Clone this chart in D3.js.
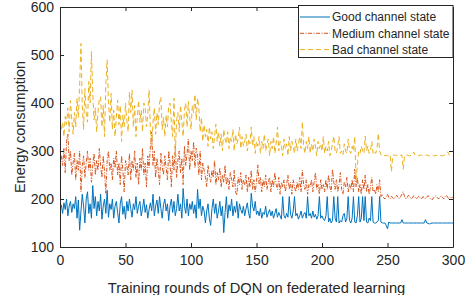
<!DOCTYPE html>
<html>
<head>
<meta charset="utf-8">
<script src="https://cdn.jsdelivr.net/npm/d3@7"></script>
<style>
  body { margin: 0; background: #fff; }
  svg text { font-family: "Liberation Sans", Arial, Helvetica, sans-serif; fill: #262626; }
</style>
</head>
<body>
<svg id="chart" width="471" height="295"></svg>
<script>
// energy consumption per training round (rounds 1..300)
var good = [
  188,170,192,178,200,165,185,195,172,190, 180,205,160,198,135,175,210,185,150,200,
  215,170,190,160,228,180,205,165,195,175, 210,158,185,200,170,218,162,190,178,200,
  160,185,195,172,150,190,205,168,185,158, 195,175,200,180,162,190,178,205,170,185,
  195,165,180,200,172,188,160,178,192,175, 210,165,185,198,170,205,180,160,188,200,
  175,190,155,185,200,172,195,165,180,210, 175,190,160,222,185,170,200,165,190,178,
  195,170,188,160,220,180,200,165,185,175, 150,175,190,160,145,180,200,170,190,160,
  175,195,165,185,130,172,205,160,188,175, 200,165,185,172,195,160,190,178,170,185,
  165,180,192,170,160,212,185,175,195,168, 175,165,180,160,172,168,185,162,170,178,
  165,175,160,170,180,162,172,165,158,205, 165,160,170,162,205,168,160,175,205,165,
  170,158,165,175,160,168,172,160,205,165, 170,160,175,162,168,158,165,205,160,165,
  158,155,165,205,152,160,150,155,205,160, 152,205,150,155,152,165,170,152,160,205,
  155,150,160,205,152,150,165,205,152,160, 205,155,205,152,150,160,155,205,152,150,
  150,152,155,205,152,150,150,150,145,138, 152,150,150,150,150,150,150,150,150,150,
  157,150,150,150,150,150,150,150,150,150, 150,150,150,150,150,150,150,150,157,150,
  149,148,149,150,150,150,150,150,150,150, 150,150,150,150,150,150,150,150,150,150
];
var medium = [
  290,270,305,255,320,335,280,300,250,275, 295,240,280,260,300,215,270,290,245,275,
  300,260,285,235,270,295,250,280,260,305, 270,245,290,255,212,280,300,260,275,240,
  285,265,300,250,275,230,290,260,215,280, 270,250,295,240,280,260,300,245,275,230,
  285,260,305,250,275,225,290,265,310,340, 270,300,245,285,260,230,295,270,250,290,
  265,240,300,275,225,290,260,310,245,280, 300,255,285,230,310,270,295,325,260,300,
  280,319,265,306,290,250,300,240,275,260, 245,226,270,250,235,260,245,280,230,255,
  240,265,225,250,235,270,230,245,220,255, 240,225,260,215,208,245,230,255,220,240,
  230,250,215,245,225,260,220,240,215,235, 271,230,245,215,240,225,250,220,235,245,
  215,240,225,255,230,220,245,210,235,225, 240,215,230,250,220,235,210,240,225,215,
  235,220,245,215,260,230,220,240,210,230, 225,240,215,235,255,220,230,210,240,220,
  230,215,240,220,250,225,215,262,235,220, 240,215,230,255,220,210,235,225,245,215,
  230,220,240,215,262,225,245,215,230,210, 240,220,250,215,230,210,225,245,215,220,
  210,230,215,240,205,210,203,200,205,210, 203,200,206,202,200,205,208,203,200,205,
  210,215,205,200,203,208,205,200,202,207, 204,200,203,206,202,200,205,203,200,204,
  207,203,200,198,202,205,207,203,200,204, 207,203,200,205,208,203,200,204,202,205
];
var bad = [
  345,360,330,372,355,390,340,405,365,335, 380,350,410,370,440,524,395,345,430,380,
  360,445,400,507,420,365,390,340,380,410, 413,350,395,330,440,490,400,360,420,345,
  385,330,370,406,355,395,320,375,350,400, 365,340,423,380,427,350,395,330,370,405,
  360,385,340,400,392,350,375,427,345,309, 360,390,335,380,355,400,413,345,370,330,
  375,350,395,400,360,330,410,288,365,380, 340,395,360,330,385,400,350,403,370,345,
  395,380,418,365,410,390,340,370,320,355, 330,345,310,350,325,340,305,330,356,320,
  340,310,335,300,345,325,315,340,305,330, 320,345,300,335,315,325,350,305,330,310,
  320,335,300,325,315,350,310,330,295,320, 310,330,295,320,305,335,300,315,325,290,
  320,305,330,295,315,350,300,320,310,290, 325,305,315,290,330,300,320,310,295,325,
  300,315,330,305,361,310,295,320,305,330, 295,315,300,325,310,290,320,305,315,300,
  330,295,310,300,320,290,300,315,331,300, 295,310,330,295,300,292,315,300,295,325,
  300,295,310,300,330,240,270,300,295,310, 300,295,331,300,310,295,300,320,295,300,
  295,305,337,300,292,290,292,290,291,290, 290,292,257,290,292,291,290,292,290,291,
  292,262,290,291,292,290,290,291,292,298, 292,291,290,290,292,291,290,290,291,292,
  290,290,291,292,290,290,291,290,290,291, 290,290,291,292,296,298,292,291,290,290
];
var seriesNames = ["Good channel state", "Medium channel state", "Bad channel state"];
var xTicks = [0, 50, 100, 150, 200, 250, 300];
var yTicks = [100, 200, 300, 400, 500, 600];

var margin = {left: 60, right: 18, top: 7, bottom: 48};
var width = 471, height = 295;

var svg = d3.select("#chart");

var x = d3.scaleLinear().domain([0, 300]).range([margin.left, width - margin.right]);
var y = d3.scaleLinear().domain([100, 600]).range([height - margin.bottom, margin.top]);

svg.append("defs").append("clipPath").attr("id", "plot")
  .append("rect")
    .attr("x", margin.left).attr("y", margin.top)
    .attr("width", x(300) - x(0)).attr("height", y(100) - y(600));

var styles = [
  {color: "#0072BD", dash: null},
  {color: "#D95319", dash: "4,1.5,1,1.5"},
  {color: "#EDB120", dash: "5,3"}
];

var line = d3.line()
  .x(function(d, i) { return x(i + 1); })
  .y(function(d) { return y(d); });

var lines = svg.append("g").attr("clip-path", "url(#plot)");
[good, medium, bad].forEach(function(s, k) {
  lines.append("path")
    .datum(s)
    .attr("fill", "none")
    .attr("stroke", styles[k].color)
    .attr("stroke-width", 1)
    .attr("stroke-dasharray", styles[k].dash)
    .attr("d", line);
});

// axes, MATLAB style box with inward ticks
var axisColor = "#262626";
var tickLen = 4;

svg.append("g")
  .attr("transform", "translate(0," + y(100) + ")")
  .call(d3.axisBottom(x).tickValues(xTicks).tickSizeInner(-tickLen).tickSizeOuter(0).tickPadding(8));
svg.append("g")
  .attr("transform", "translate(0," + y(600) + ")")
  .call(d3.axisTop(x).tickValues(xTicks).tickSizeInner(-tickLen).tickSizeOuter(0).tickFormat(""));
svg.append("g")
  .attr("transform", "translate(" + x(0) + ",0)")
  .call(d3.axisLeft(y).tickValues(yTicks).tickSizeInner(-tickLen).tickSizeOuter(0).tickPadding(6));
svg.append("g")
  .attr("transform", "translate(" + x(300) + ",0)")
  .call(d3.axisRight(y).tickValues(yTicks).tickSizeInner(-tickLen).tickSizeOuter(0).tickFormat(""));

svg.selectAll(".domain, .tick line").attr("stroke", axisColor).attr("stroke-width", 1);
svg.selectAll(".tick text").attr("font-size", 14).style("fill", axisColor);

svg.append("text")
  .attr("x", (x(0) + x(300)) / 2)
  .attr("y", 293)
  .attr("text-anchor", "middle")
  .attr("font-size", 14.7)
  .text("Training rounds of DQN on federated learning");

svg.append("text")
  .attr("transform", "translate(25," + (y(100) + y(600)) / 2 + ") rotate(-90)")
  .attr("text-anchor", "middle")
  .attr("font-size", 14.5)
  .text("Energy consumption");

// legend
var lg = svg.append("g");
lg.append("rect")
  .attr("x", 298.5).attr("y", 5.5)
  .attr("width", x(300) - 298.5).attr("height", 52)
  .attr("fill", "#fff").attr("stroke", axisColor).attr("stroke-width", 1);
seriesNames.forEach(function(name, k) {
  var cy = 17 + k * 16.3;
  lg.append("line")
    .attr("x1", 300).attr("x2", 330).attr("y1", cy).attr("y2", cy)
    .attr("stroke", styles[k].color).attr("stroke-width", 1)
    .attr("stroke-dasharray", styles[k].dash);
  lg.append("text")
    .attr("x", 332).attr("y", cy + 4.3)
    .attr("font-size", 12)
    .text(name);
});
</script>
</body>
</html>
